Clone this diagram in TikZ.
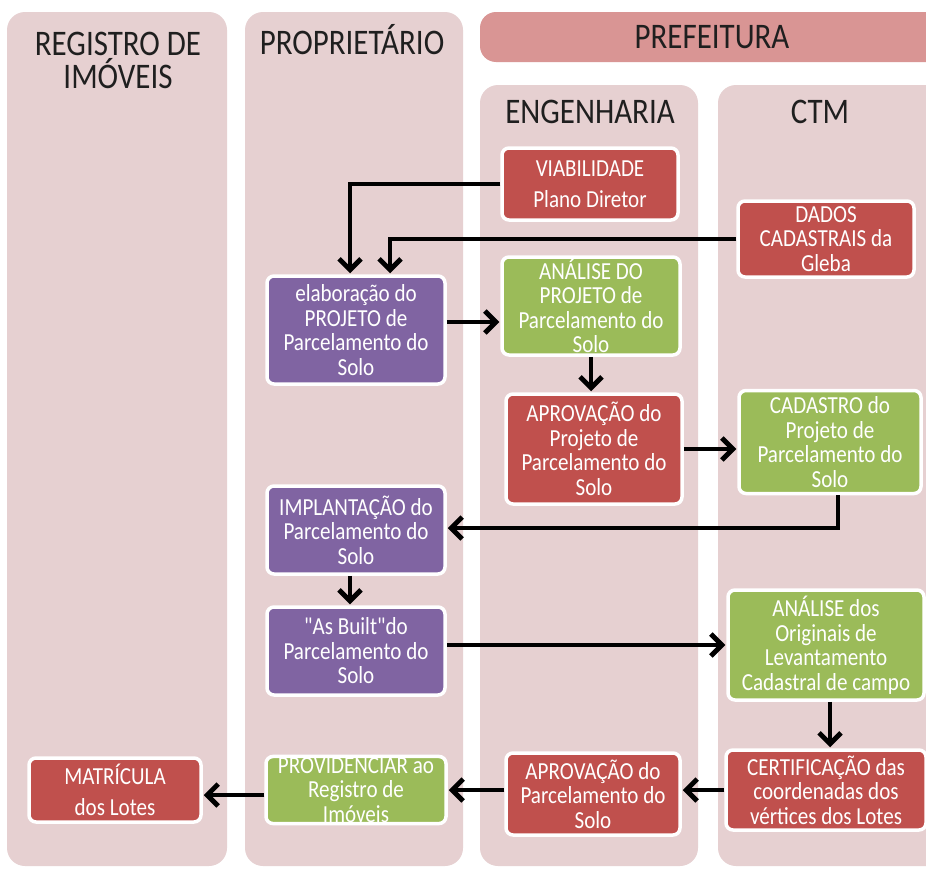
\documentclass[tikz,border=0pt]{standalone}
\usepackage{fontspec}
\setmainfont{Carlito}
\newfontfamily\tallfont[FakeStretch=0.86]{Carlito}
\usetikzlibrary{arrows.meta}
\definecolor{colbg}{HTML}{E6D0D1}
\definecolor{prefbar}{HTML}{D99594}
\definecolor{boxred}{HTML}{C0504D}
\definecolor{boxgreen}{HTML}{9BBB59}
\definecolor{boxpurple}{HTML}{8064A2}
\definecolor{hdrtext}{HTML}{1F1F1F}
\tikzset{
  column/.style={fill=colbg, rounded corners=18pt},
  hdr/.style={text=hdrtext, align=center, font=\tallfont\fontsize{36}{33}\selectfont, inner sep=0pt},
  stepbox/.style={draw=white, line width=3.5pt, rounded corners=7pt, text=white, align=center,
    font=\tallfont\fontsize{24.5}{24.5}\selectfont, inner sep=1pt},
  redbox/.style={stepbox, fill=boxred},
  greenbox/.style={stepbox, fill=boxgreen},
  purplebox/.style={stepbox, fill=boxpurple},
  arr/.style={line width=4.8pt, -{Straight Barb[length=11pt,width=22pt]}, shorten >=1pt}
}
\begin{document}
\begin{tikzpicture}[x=1pt,y=-1pt]
\useasboundingbox (0,0) rectangle (926,870);
\clip (0,0) rectangle (926,870);
\fill[white] (0,0) rectangle (926,870);
% columns
\fill[column] (7,12) rectangle (227,866);
\fill[column] (245,12) rectangle (463,866);
\fill[prefbar, rounded corners=16pt] (480,12) rectangle (960,62);
\fill[column] (480,85) rectangle (698,866);
\fill[column] (718,85) rectangle (960,866);
% headers
\node[hdr] (hreg) at (118,60) {REGISTRO DE\\IMÓVEIS};
\node[hdr] (hprop) at (352,40) {PROPRIETÁRIO};
\node[hdr] (hpref) at (712,37) {PREFEITURA};
\node[hdr] (heng) at (590,112) {ENGENHARIA};
\node[hdr] (hctm) at (820,112) {CTM};
% boxes
\node[redbox, minimum width=176pt, minimum height=72pt] (viab) at (590,184) {VIABILIDADE\\[7pt]Plano Diretor};
\node[redbox, minimum width=176pt, minimum height=76pt] (dados) at (826,239) {DADOS\\CADASTRAIS da\\Gleba};
\node[purplebox, minimum width=178pt, minimum height=108pt] (elab) at (356,330) {elaboração do\\PROJETO de\\Parcelamento do\\Solo};
\node[greenbox, minimum width=178pt, minimum height=98pt] (anal1) at (591,306) {ANÁLISE DO\\PROJETO de\\Parcelamento do\\Solo};
\node[redbox, minimum width=176pt, minimum height=110pt] (aprov1) at (594,449) {APROVAÇÃO do\\Projeto de\\Parcelamento do\\Solo};
\node[greenbox, minimum width=182pt, minimum height=103pt] (cad) at (830,442) {CADASTRO do\\Projeto de\\Parcelamento do\\Solo};
\node[purplebox, minimum width=178pt, minimum height=88pt] (impl) at (356,530) {IMPLANTAÇÃO do\\Parcelamento do\\Solo};
\node[purplebox, minimum width=178pt, minimum height=88pt] (asb) at (356,651) {\symbol{34}As Built\symbol{34}do\\Parcelamento do\\Solo};
\node[greenbox, minimum width=196pt, minimum height=110pt] (anal2) at (826,645) {ANÁLISE dos\\Originais de\\Levantamento\\Cadastral de campo};
\node[redbox, minimum width=200pt, minimum height=80pt] (cert) at (826,790) {CERTIFICAÇÃO das\\coordenadas dos\\vértices dos Lotes};
\node[redbox, minimum width=174pt, minimum height=82pt] (aprov2) at (593,794) {APROVAÇÃO do\\Parcelamento do\\Solo};
\node[greenbox, minimum width=180pt, minimum height=66pt] (prov) at (356,790) {PROVIDENCIAR ao\\Registro de\\Imóveis};
\node[redbox, minimum width=172pt, minimum height=64pt] (matr) at (115,790) {MATRÍCULA\\[7pt]dos Lotes};
% connectors
\draw[arr] (viab.west) -| ([xshift=-6pt]elab.north);
\draw[arr] (dados.west) -| ([xshift=34pt]elab.north);
\draw[arr] ([yshift=8pt]elab.east) -- ([yshift=8pt]elab.east -| anal1.west);
\draw[arr] (anal1.south) -- (anal1.south |- aprov1.north);
\draw[arr] (aprov1.east) -- (aprov1.east -| cad.west);
\draw[arr] ([xshift=8pt]cad.south) |- ([yshift=2pt]impl.east);
\draw[arr] ([xshift=-6pt]impl.south) -- ([xshift=-6pt]asb.north);
\draw[arr] ([yshift=6pt]asb.east) -- ([yshift=6pt]asb.east -| anal2.west);
\draw[arr] ([xshift=4pt]anal2.south) -- ([xshift=4pt]anal2.south |- cert.north);
\draw[arr] (cert.west) -- (cert.west -| aprov2.east);
\draw[arr] ([yshift=4pt]aprov2.west) -- ([yshift=4pt]aprov2.west -| prov.east);
\draw[arr] ([yshift=-5pt]prov.west) -- ([yshift=-5pt]prov.west -| matr.east);
\end{tikzpicture}
\end{document}
